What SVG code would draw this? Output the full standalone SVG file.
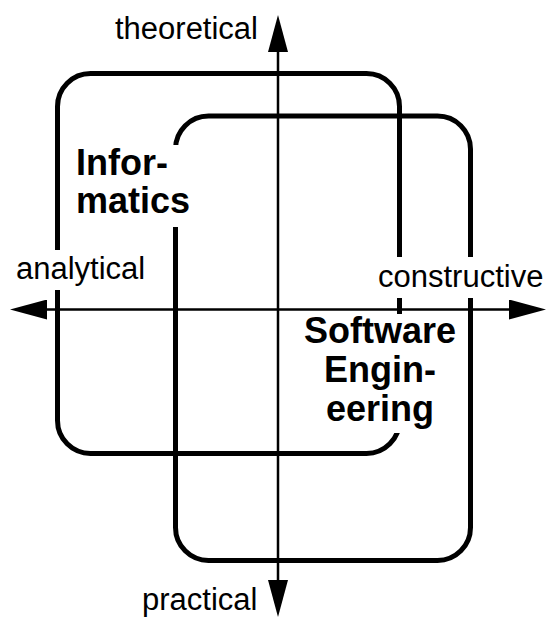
<svg xmlns="http://www.w3.org/2000/svg" width="552" height="618" viewBox="0 0 552 618">
  <style>
    .frame { fill: none; stroke: #000; stroke-width: 5; }
    .axis { fill: none; stroke: #000; stroke-width: 2.5; }
    .bg { fill: #fff; stroke: none; }
    .pole { font-family: "Liberation Sans", Arial, Helvetica, sans-serif; font-size: 31px; fill: #000; }
    .name { font-family: "Liberation Sans", Arial, Helvetica, sans-serif; font-size: 36px; font-weight: bold; fill: #000; }
  </style>
  <defs>
    <marker id="head" viewBox="0 0 37 20" refX="0" refY="10" markerWidth="37" markerHeight="20" markerUnits="userSpaceOnUse" orient="auto">
      <path d="M0,0 L37,10 L0,20 Z" fill="#000"/>
    </marker>
  </defs>

  <rect width="552" height="618" fill="#fff"/>

  <!-- field frames -->
  <g id="informatics">
    <rect class="frame" x="57.5" y="73.5" width="342" height="380" rx="33" ry="33"/>
  </g>
  <g id="software-engineering">
    <rect class="frame" x="175.5" y="116" width="295" height="444.5" rx="33" ry="33"/>
  </g>

  <!-- field names, on white panels that hide the frames behind them -->
  <g id="informatics-label">
    <rect class="bg" x="70" y="145" width="128" height="82"/>
    <text class="name" x="76" y="175">Infor-</text>
    <text class="name" x="76" y="213">matics</text>
  </g>
  <g id="software-engineering-label">
    <rect class="bg" x="296" y="314" width="166" height="119"/>
    <text class="name" x="380" y="343" text-anchor="middle">Software</text>
    <text class="name" x="380" y="382" text-anchor="middle">Engin-</text>
    <text class="name" x="380" y="421" text-anchor="middle">eering</text>
  </g>

  <!-- axes -->
  <g id="axes">
    <line class="axis" x1="278" y1="310" x2="278" y2="52" marker-end="url(#head)"/>
    <line class="axis" x1="278" y1="310" x2="278" y2="580" marker-end="url(#head)"/>
    <line class="axis" x1="278" y1="309.5" x2="47" y2="309.5" marker-end="url(#head)"/>
    <line class="axis" x1="278" y1="309.5" x2="509" y2="309.5" marker-end="url(#head)"/>
  </g>

  <!-- axis pole labels -->
  <g id="theoretical">
    <rect class="bg" x="112" y="10" width="150" height="40"/>
    <text class="pole" x="258" y="39" text-anchor="end">theoretical</text>
  </g>
  <g id="practical">
    <rect class="bg" x="138" y="582" width="124" height="36"/>
    <text class="pole" x="142" y="610">practical</text>
  </g>
  <g id="analytical">
    <rect class="bg" x="12" y="250" width="139" height="40"/>
    <text class="pole" x="16" y="279">analytical</text>
  </g>
  <g id="constructive">
    <rect class="bg" x="374" y="257" width="175" height="41"/>
    <text class="pole" x="378" y="287">constructive</text>
  </g>
</svg>
